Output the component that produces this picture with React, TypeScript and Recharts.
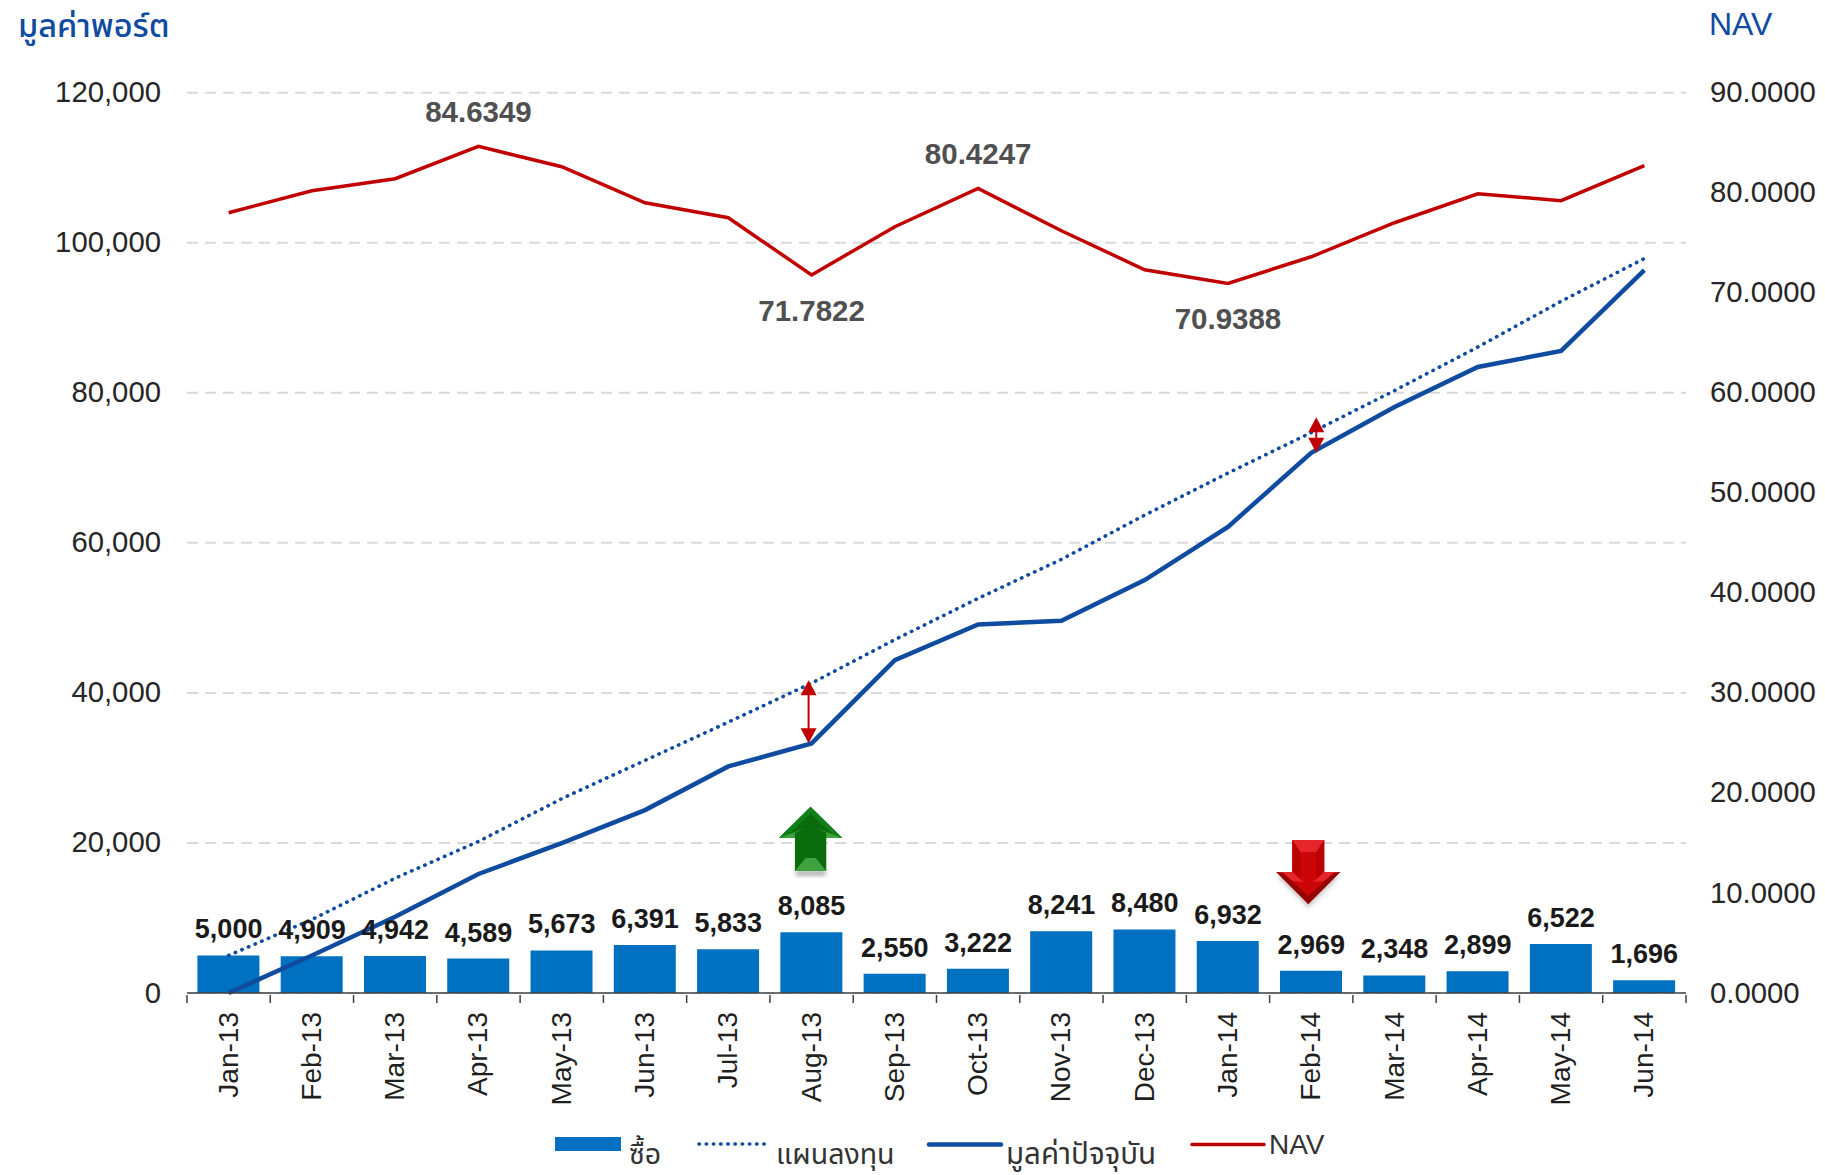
import React from 'react';
import { ComposedChart, Bar, Line, XAxis, YAxis, CartesianGrid, Legend, LabelList, ReferenceLine } from 'recharts';

const months = ['Jan-13','Feb-13','Mar-13','Apr-13','May-13','Jun-13','Jul-13','Aug-13','Sep-13','Oct-13','Nov-13','Dec-13','Jan-14','Feb-14','Mar-14','Apr-14','May-14','Jun-14'];
const buyValues = [5000,4909,4942,4589,5673,6391,5833,8085,2550,3222,8241,8480,6932,2969,2348,2899,6522,1696];
const planValues = [5000,9800,15300,20200,25900,31000,36100,41300,47100,52600,57800,63700,69300,74700,80300,86100,92200,97900];
const currentValues = [0,5000,10170,15860,19990,24380,30200,33270,44370,49130,49610,55030,62130,72000,78100,83450,85580,96340];
const navValues = [78.0,80.2,81.4,84.6349,82.6,79.0,77.5,71.7822,76.6,80.4247,76.2,72.3,70.9388,73.6,77.0,79.9,79.2,82.7];
const navLabelled = ['Apr-13','Aug-13','Oct-13','Jan-14'];
const navBelow = ['Aug-13','Jan-14'];
const leftTicks = [0,20000,40000,60000,80000,100000,120000];
const rightTicks = [0,10,20,30,40,50,60,70,80,90];

const seriesNames = { buy: 'ซื้อ', plan: 'แผนลงทุน', current: 'มูลค่าปัจจุบัน', nav: 'NAV' };
const rows = months.map((m, i) => ({ month: m, buy: buyValues[i], plan: planValues[i], current: currentValues[i], nav: navValues[i] }));

const FONT = '"Liberation Sans", Arial, sans-serif';
const THAI = '"Noto Sans Thai", "Noto Sans", "DejaVu Sans", "Liberation Sans", sans-serif';
const BLUE = '#0f4b9f';
const RED = '#c00000';

function MonthTick(props: any) {
  const { x, y, payload, index, width } = props;
  const band = (width || 1499) / months.length;
  const top = y - 6;
  return (
    <g>
      <line x1={x - band / 2} x2={x - band / 2} y1={top} y2={top + 8} stroke="#404040" strokeWidth={1.5} />
      {index === months.length - 1 && <line x1={x + band / 2} x2={x + band / 2} y1={top} y2={top + 8} stroke="#404040" strokeWidth={1.5} />}
      <text transform={`translate(${x + 9},${top + 17}) rotate(-90)`} textAnchor="end" fontFamily={FONT} fontSize={28} fill="#1f1f1f">{payload.value}</text>
    </g>
  );
}

function DoubleArrow(dx: number) {
  return (p: any) => {
    const x = p.x1 + dx;
    const a = Math.min(p.y1, p.y2), b = Math.max(p.y1, p.y2);
    return (
      <g>
        <line x1={x} x2={x} y1={a + 10} y2={b - 10} stroke={RED} strokeWidth={2} />
        <polygon points={`${x},${a} ${x + 8},${a + 15} ${x - 8},${a + 15}`} fill={RED} />
        <polygon points={`${x},${b} ${x + 8},${b - 15} ${x - 8},${b - 15}`} fill={RED} />
      </g>
    );
  };
}

function ArrowShadow() {
  return (
    <defs>
      <filter id="arrowBlur" x="-30%" y="-30%" width="160%" height="160%">
        <feGaussianBlur stdDeviation="2.2" />
      </filter>
    </defs>
  );
}

function GreenArrow(p: any) {
  const x = p.x1 - 1, t = Math.min(p.y1, p.y2), b = Math.max(p.y1, p.y2);
  const h = t + 31;
  const outline = `${x},${t} ${x + 31.5},${h} ${x + 15.7},${h} ${x + 15.7},${b} ${x - 15.7},${b} ${x - 15.7},${h} ${x - 31.5},${h}`;
  return (
    <g>
      <ArrowShadow />
      <rect x={x - 15} y={b - 1} width={30} height={6} fill="#777" opacity={0.55} filter="url(#arrowBlur)" />
      <polygon points={outline} fill="#0a6c0a" />
      <polygon points={`${x},${t} ${x + 31.5},${h} ${x + 26},${h} ${x},${t + 7} ${x - 26},${h} ${x - 31.5},${h}`} fill="#12801a" />
      <polygon points={`${x - 15.7},${h} ${x - 30.5},${h} ${x - 5},${h - 10} ${x - 15.7},${h - 5}`} fill="#3ea33e" />
      <polygon points={`${x + 15.7},${h} ${x + 30.5},${h} ${x + 5},${h - 10} ${x + 15.7},${h - 5}`} fill="#3ea33e" />
      <polygon points={`${x - 15.7},${b} ${x + 15.7},${b} ${x + 5},${b - 13} ${x - 5},${b - 13}`} fill="#3ea33e" />
    </g>
  );
}

function RedArrow(p: any) {
  const x = p.x1 - 3, t = Math.min(p.y1, p.y2), b = Math.max(p.y1, p.y2);
  const h = b - 32;
  const outline = `${x + 16},${t} ${x + 16},${h} ${x + 32},${h} ${x},${b} ${x - 32},${h} ${x - 16},${h} ${x - 16},${t}`;
  return (
    <g>
      <ArrowShadow />
      <polygon points={`${x + 32},${h + 4} ${x},${b + 4} ${x - 32},${h + 4}`} fill="#777" opacity={0.4} filter="url(#arrowBlur)" />
      <polygon points={outline} fill="#cc0606" />
      <polygon points={`${x - 16},${t} ${x + 16},${t} ${x + 8},${t + 12} ${x - 8},${t + 12}`} fill="#e6262c" />
      <polygon points={`${x - 16},${t} ${x - 8},${t + 12} ${x - 8},${h + 8} ${x - 16},${h}`} fill="#b80204" />
      <polygon points={`${x + 16},${t} ${x + 8},${t + 12} ${x + 8},${h + 8} ${x + 16},${h}`} fill="#b80204" />
      <polygon points={`${x - 32},${h} ${x - 16},${h} ${x - 5},${h + 10} ${x - 15},${h + 9}`} fill="#e6262c" />
      <polygon points={`${x + 32},${h} ${x + 16},${h} ${x + 5},${h + 10} ${x + 15},${h + 9}`} fill="#e6262c" />
      <polygon points={`${x - 32},${h} ${x},${b} ${x + 32},${h} ${x + 25},${h + 1} ${x},${b - 8} ${x - 25},${h + 1}`} fill="#950000" />
    </g>
  );
}

function LegendBox(props: any) {
  const items = props.payload || [];
  const find = (name: string) => items.find((i: any) => i.value === name);
  const place = [
    { name: seriesNames.buy, x: 555, w: 66, tx: 629, ty: 1164, kind: 'bar' },
    { name: seriesNames.plan, x: 699, w: 66, tx: 776, ty: 1164, kind: 'dot' },
    { name: seriesNames.current, x: 929, w: 72, tx: 1006, ty: 1164, kind: 'line' },
    { name: seriesNames.nav, x: 1192, w: 72, tx: 1269, ty: 1154, kind: 'nav' },
  ];
  return (
    <svg width={1825} height={80} style={{ display: 'block', overflow: 'visible' }}>
      <g transform="translate(0,-1110)">
        {place.map((d) => {
          const it = find(d.name);
          const c = it ? it.color : '#000';
          return (
            <g key={d.name}>
              {d.kind === 'bar' && <rect x={d.x} y={1137} width={d.w} height={14} fill={c} />}
              {d.kind === 'dot' && <line x1={d.x} x2={d.x + d.w} y1={1144} y2={1144} stroke={c} strokeWidth={3.6} strokeDasharray="0.4 6.8" strokeLinecap="round" />}
              {(d.kind === 'line' || d.kind === 'nav') && <line x1={d.x} x2={d.x + d.w} y1={1144.5} y2={1144.5} stroke={c} strokeWidth={d.kind === 'nav' ? 3.5 : 4.5} strokeLinecap="round" />}
              <text x={d.tx} y={d.ty} fontFamily={d.kind === 'nav' ? FONT : THAI} fontSize={d.kind === 'nav' ? 28 : d.kind === 'line' ? 29.5 : 28.5} fill="#333">{d.name}</text>
            </g>
          );
        })}
      </g>
    </svg>
  );
}

function NavLabel(props: any) {
  const { x, y, index, value } = props;
  const m = months[index];
  if (!navLabelled.includes(m)) return null;
  const below = navBelow.includes(m);
  return (
    <text x={x} y={below ? y + 46 : y - 24} textAnchor="middle" fontFamily={FONT} fontSize={29.5} fontWeight="bold" fill="#505050">
      {Number(value).toFixed(4)}
    </text>
  );
}

const AxisTick = (fmt: (v: number) => string, anchor: 'start' | 'end') => (props: any) => (
  <text x={props.x} y={props.y - 1} dy="0.36em" textAnchor={anchor} fontFamily={FONT} fontSize={29.3} fill="#262626">
    {fmt(props.payload.value)}
  </text>
);

export default function App() {
  return (
    <div style={{ position: 'absolute', left: 0, top: 0, width: 1825, height: 1175, background: '#fff' }}>
      <div style={{ position: 'absolute', left: 18, top: 3, fontFamily: THAI, fontSize: 32.5, fontWeight: 500, color: BLUE, whiteSpace: 'nowrap' }}>มูลค่าพอร์ต</div>
      <div style={{ position: 'absolute', left: 1709, top: 6, fontFamily: FONT, fontSize: 32, color: BLUE }}>NAV</div>
      <ComposedChart width={1825} height={1175} data={rows} barCategoryGap="12.5%" margin={{ top: 92.7, right: 0, bottom: 0, left: 0 }}>
        <CartesianGrid yAxisId="left" horizontal vertical={false} stroke="#d9d9d9" strokeWidth={2} strokeDasharray="11 7" />
        <XAxis dataKey="month" xAxisId={0} interval={0} height={182} tickLine={false} tick={<MonthTick />} axisLine={{ stroke: '#404040', strokeWidth: 1.5 }} />
        <YAxis yAxisId="left" width={187} domain={[0, 120000]} ticks={leftTicks} axisLine={false} tickLine={false} tickMargin={26} tickSize={0} tick={AxisTick((v) => v.toLocaleString('en-US'), 'end')} />
        <YAxis yAxisId="right" orientation="right" width={139} domain={[0, 90]} ticks={rightTicks} axisLine={false} tickLine={false} tickMargin={24} tickSize={0} tick={AxisTick((v) => v.toFixed(4), 'start')} />
        <Legend layout="horizontal" verticalAlign="middle" align="center" wrapperStyle={{ position: 'absolute', left: 0, top: 1110, width: 1825, height: 60 }} content={<LegendBox />} />
        <Bar yAxisId="left" dataKey="buy" name={seriesNames.buy} fill="#0070c0" isAnimationActive={false} />
        <Line yAxisId="left" dataKey="plan" name={seriesNames.plan} stroke={BLUE} strokeWidth={3.6} strokeDasharray="0.4 6.8" strokeLinecap="round" dot={false} activeDot={false} isAnimationActive={false} />
        <Line yAxisId="left" dataKey="current" name={seriesNames.current} stroke={BLUE} strokeWidth={4.5} dot={false} activeDot={false} isAnimationActive={false} />
        <Line yAxisId="right" dataKey="nav" name={seriesNames.nav} stroke={RED} strokeWidth={3.5} dot={false} activeDot={false} isAnimationActive={false}>
          <LabelList dataKey="nav" content={<NavLabel />} />
        </Line>
        <Line yAxisId="left" dataKey="buy" stroke="none" legendType="none" dot={false} activeDot={false} isAnimationActive={false}>
          <LabelList dataKey="buy" position="top" offset={17} fontFamily={FONT} fontSize={27} fontWeight="bold" fill="#1a1a1a" formatter={(v: number) => v.toLocaleString('en-US')} />
        </Line>
        <ReferenceLine yAxisId="left" segment={[{ x: 'Aug-13', y: 41700 }, { x: 'Aug-13', y: 33300 }]} shape={DoubleArrow(-3)} />
        <ReferenceLine yAxisId="left" segment={[{ x: 'Feb-14', y: 76750 }, { x: 'Feb-14', y: 72000 }]} shape={DoubleArrow(5)} />
        <ReferenceLine yAxisId="left" segment={[{ x: 'Aug-13', y: 24820 }, { x: 'Aug-13', y: 16260 }]} shape={GreenArrow} />
        <ReferenceLine yAxisId="left" segment={[{ x: 'Feb-14', y: 20390 }, { x: 'Feb-14', y: 11860 }]} shape={RedArrow} />
      </ComposedChart>
    </div>
  );
}
